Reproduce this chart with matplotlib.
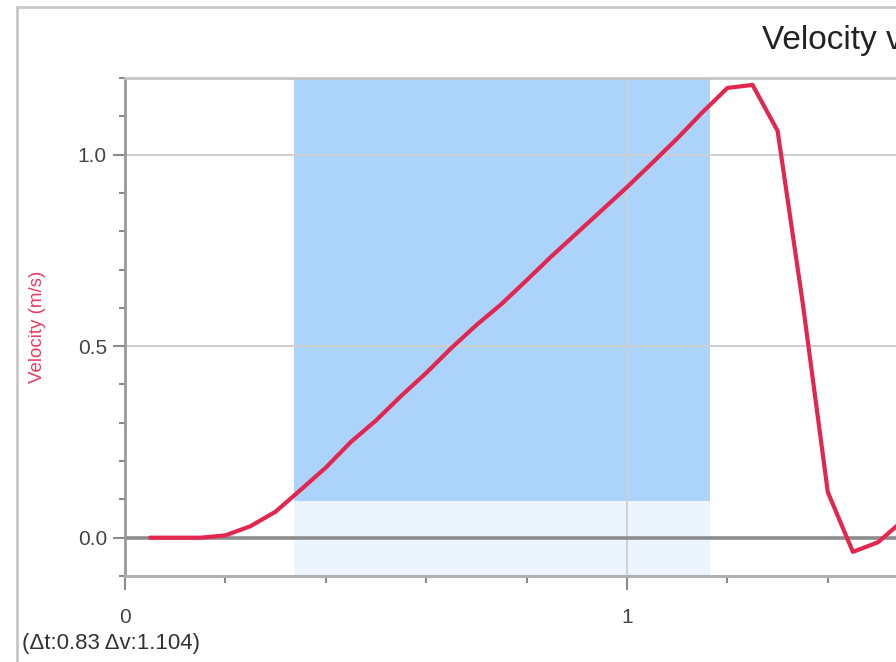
import matplotlib
matplotlib.use('Agg')
from matplotlib import pyplot as plt
from matplotlib.patches import Rectangle
from matplotlib.ticker import MultipleLocator, FixedLocator

plt.rcParams['font.family'] = ['Liberation Sans', 'DejaVu Sans']

# velocity samples (20 Hz)
tiempo = [0.05, 0.10, 0.15, 0.20, 0.25, 0.30, 0.35, 0.40, 0.45, 0.50,
          0.55, 0.60, 0.65, 0.70, 0.75, 0.80, 0.85, 0.90, 0.95, 1.00,
          1.05, 1.10, 1.15, 1.20, 1.25, 1.30, 1.35, 1.40, 1.45, 1.50,
          1.55]
velocidad = [0.0, 0.0, 0.0, 0.006, 0.03, 0.068, 0.125, 0.183, 0.25, 0.306,
             0.37, 0.43, 0.495, 0.555, 0.61, 0.672, 0.735, 0.795, 0.855,
             0.915, 0.978, 1.042, 1.11, 1.174, 1.182, 1.062, 0.613, 0.119,
             -0.037, -0.012, 0.045]

# selection box
sel_t = [0.337, 1.165]
sel_v = [0.096, 1.2]
delta_t = 0.83
delta_v = 1.104

W, H = 896, 662
fig = plt.figure(figsize=(W / 100, H / 100), dpi=100)

x_max = 2.9
ax = fig.add_axes([125 / W, 86 / H, x_max * 502 / W, 498 / H])
ax.set_xlim(0, x_max)
ax.set_ylim(-0.1, 1.2)

rojo = '#e2264f'

# selection shading
ax.add_patch(Rectangle((sel_t[0], -0.1), sel_t[1] - sel_t[0], sel_v[0] + 0.1,
                       facecolor='#ecf4fd', edgecolor='none', zorder=1))
ax.add_patch(Rectangle((sel_t[0], sel_v[0]), sel_t[1] - sel_t[0],
                       sel_v[1] - sel_v[0],
                       facecolor='#acd3fa', edgecolor='none', zorder=1))

ax.grid(True, which='major', color='#cfcfcf', lw=1.4)
ax.axhline(0, color='#8c8c8c', lw=2.6, zorder=1.6)

ax.plot(tiempo, velocidad, color=rojo, lw=3, zorder=3,
        solid_joinstyle='round', solid_capstyle='round')

# ticks
ax.xaxis.set_major_locator(FixedLocator([0, 1]))
ax.xaxis.set_minor_locator(MultipleLocator(0.2))
ax.yaxis.set_major_locator(FixedLocator([0.0, 0.5, 1.0]))
ax.yaxis.set_minor_locator(MultipleLocator(0.1))
ax.set_yticklabels(['0.0', '0.5', '1.0'])
ax.tick_params(axis='x', which='major', length=10, width=1.5,
               color='#8a8a8a', pad=13, labelsize=15, labelcolor='#444444')
ax.tick_params(axis='x', which='minor', length=5, width=1.5,
               color='#8a8a8a')
ax.tick_params(axis='y', which='major', length=9, width=1.5,
               color='#8a8a8a', pad=4, labelsize=15, labelcolor='#444444')
ax.tick_params(axis='y', which='minor', length=4, width=1.5,
               color='#8a8a8a')

for lado, col, ancho in [('left', '#999999', 2.0), ('bottom', '#b0b0b0', 2.2),
                         ('top', '#c4c4c4', 2.0), ('right', '#c4c4c4', 2.0)]:
    ax.spines[lado].set_color(col)
    ax.spines[lado].set_linewidth(ancho)

ax.set_ylabel('Velocity (m/s)', color='#ea3a62', fontsize=13.5, labelpad=23)

fig.text(762 / W, 1 - 40 / H, 'Velocity vs Time', fontsize=24,
         ha='left', va='center', color='#222222')

fig.text(22 / W, 1 - 644 / H,
         '(\u0394t:{:.2f} \u0394v:{:.3f})'.format(delta_t, delta_v),
         fontsize=16, ha='left', va='center', color='#333333')

# outer frame of the panel
fig.add_artist(Rectangle((17 / W, -0.1), 1.2, 1.1 - 7 / H,
                         transform=fig.transFigure, fill=False,
                         edgecolor='#c8c8c8', lw=2, clip_on=False))

fig.savefig('out.png', dpi=100)
